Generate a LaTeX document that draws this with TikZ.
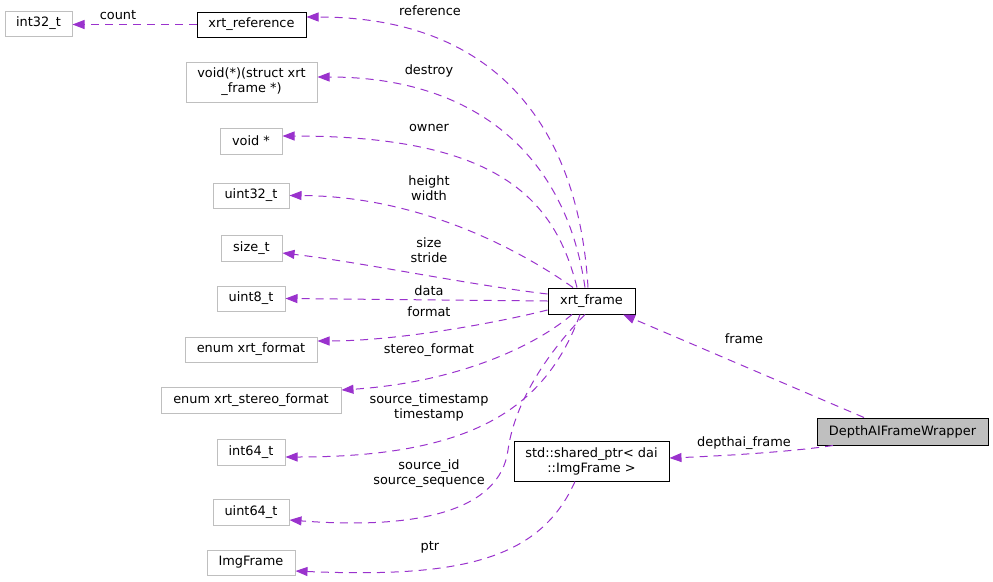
\documentclass[tikz,border=0pt]{standalone}
\usepackage{fontspec}
\setmainfont{DejaVu Sans}
\usetikzlibrary{arrows.meta}
\definecolor{edgec}{HTML}{9A32CD}
\definecolor{greyb}{HTML}{BFBFBF}
\begin{document}
\begin{tikzpicture}[x=1pt,y=-1pt,
  font=\fontsize{12.9}{15}\selectfont,
  nd/.style={draw=greyb, line width=1pt, inner sep=0pt, align=center, text=black},
  ndk/.style={nd, draw=black},
  lbl/.style={inner sep=0pt, align=center, text=black},
  rel/.style={draw=edgec, line width=1pt, dash pattern=on 8pt off 6pt,
    -{Triangle[length=12pt,width=9pt,fill=edgec]}}]
\useasboundingbox (0,0) rectangle (993,581);
% nodes
\node[nd, minimum width=67pt, minimum height=25pt] (int32) at (38.5,23.5) {int32\_t};
\node[ndk, minimum width=109pt, minimum height=25pt] (xref) at (251.5,24.5) {xrt\_reference};
\node[nd, minimum width=131pt, minimum height=40pt] (destroyT) at (251.5,82) {void(*)(struct xrt\\\_frame *)};
\node[nd, minimum width=62pt, minimum height=26pt] (voidp) at (251,141) {void *};
\node[nd, minimum width=76pt, minimum height=25pt] (u32) at (251,195.5) {uint32\_t};
\node[nd, minimum width=61pt, minimum height=26pt] (sizet) at (251.5,248) {size\_t};
\node[nd, minimum width=68pt, minimum height=25pt] (u8) at (251,298.5) {uint8\_t};
\node[nd, minimum width=132pt, minimum height=25pt] (fmt) at (251,349.5) {enum xrt\_format};
\node[nd, minimum width=180pt, minimum height=26pt] (sfmt) at (251,400) {enum xrt\_stereo\_format};
\node[nd, minimum width=68pt, minimum height=26pt] (i64) at (251,452) {int64\_t};
\node[nd, minimum width=76pt, minimum height=26pt] (u64) at (251,512) {uint64\_t};
\node[nd, minimum width=88pt, minimum height=25pt] (imgf) at (251,562.5) {ImgFrame};
\node[ndk, minimum width=87pt, minimum height=26pt] (xframe) at (591.5,301) {xrt\_frame};
\node[ndk, minimum width=155pt, minimum height=40pt] (sptr) at (591.5,461) {std::shared\_ptr< dai\\::ImgFrame >};
\node[ndk, fill=greyb, minimum width=171pt, minimum height=27pt] (wrap) at (902.5,431.5) {DepthAIFrameWrapper};
% edges
\draw[rel] (xref.west) -- (int32.east |- xref.west);
\draw[rel] ([xshift=-3.5pt]xframe.north) .. controls (578,120) and (490,17) .. ([yshift=7.5pt]xref.east);
\draw[rel] ([xshift=-6.5pt]xframe.north) .. controls (565,150) and (470,77) .. ([yshift=5pt]destroyT.east);
\draw[rel] ([xshift=-14.5pt]xframe.north) .. controls (555,200) and (500,136) .. ([yshift=5pt]voidp.east);
\draw[rel] ([xshift=-18.5pt]xframe.north) .. controls (520,250) and (420,196) .. (u32.east);
\draw[rel] ([yshift=7pt]xframe.west) .. controls (470,285) and (360,262) .. ([yshift=-5pt]sizet.east);
\draw[rel] (xframe.west) -- (u8.east);
\draw[rel] ([yshift=-9pt]xframe.west) .. controls (500,322) and (400,341) .. ([yshift=8.5pt]fmt.east);
\draw[rel] ([xshift=-19.5pt]xframe.south) .. controls (530,350) and (450,383) .. ([yshift=10pt]sfmt.east);
\draw[rel] ([xshift=-11.5pt]xframe.south) .. controls (545,410) and (470,457) .. ([yshift=-5pt]i64.east);
\draw[rel] ([xshift=-6.5pt]xframe.south) .. controls (550,350) and (515,400) .. (508,450) .. controls (500,510) and (420,530) .. ([yshift=-8pt]u64.east);
\draw[rel] ([xshift=-16.5pt]sptr.south) .. controls (540,560) and (460,578) .. ([yshift=-8.5pt]imgf.east);
\draw[rel] ([xshift=-38.5pt]wrap.north) -- ([xshift=31.5pt]xframe.south);
\draw[rel] ([xshift=-69.5pt]wrap.south) .. controls (790,452) and (720,456) .. ([yshift=3pt]sptr.east);
% labels
\node[lbl] (lcount) at (118,15) {count};
\node[lbl] (lref) at (430,11) {reference};
\node[lbl] (ldestroy) at (429,71) {destroy};
\node[lbl] (lowner) at (429,128) {owner};
\node[lbl] (lhw) at (429,188) {height\\width};
\node[lbl] (lss) at (429,250) {size\\stride};
\node[lbl] (ldata) at (429,291) {data};
\node[lbl] (lformat) at (429,312) {format};
\node[lbl] (lsformat) at (429,350) {stereo\_format};
\node[lbl] (lts) at (429,407) {source\_timestamp\\timestamp};
\node[lbl] (lsid) at (429,474) {source\_id\\source\_sequence};
\node[lbl] (lptr) at (430,547) {ptr};
\node[lbl] (lframe) at (744,339) {frame};
\node[lbl] (ldai) at (744,443) {depthai\_frame};
\end{tikzpicture}
\end{document}
